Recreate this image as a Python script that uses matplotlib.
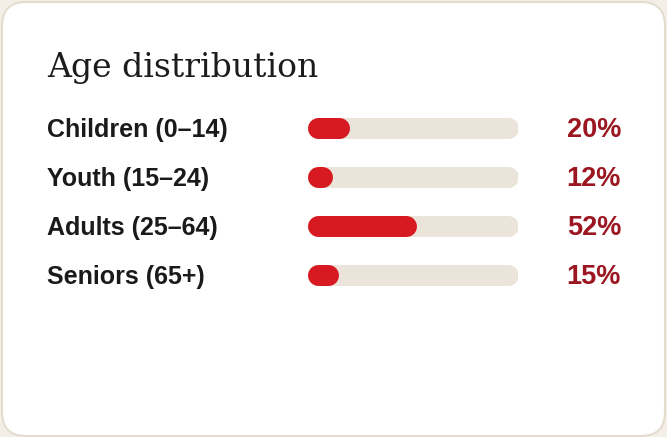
import matplotlib
matplotlib.use("Agg")
import matplotlib.pyplot as plt
from matplotlib.patches import FancyBboxPatch
from matplotlib.transforms import blended_transform_factory

title = "Age distribution"
groups = ["Children (0–14)", "Youth (15–24)", "Adults (25–64)", "Seniors (65+)"]
shares = [20, 12, 52, 15]

W, H = 667, 437
fig = plt.figure(figsize=(W / 100, H / 100), dpi=100, facecolor="#f3efe7")

# card
card = FancyBboxPatch((2, 1), W - 4, H - 3, boxstyle="round,pad=0,rounding_size=24",
                      transform=None, facecolor="white", edgecolor="#e4dccf", lw=1.5,
                      zorder=-10)
fig.patches.append(card)

fig.text(47 / W, 1 - 77 / H, title, family="DejaVu Serif", fontsize=23.8,
         color="#1c1c1c", va="baseline", ha="left")

# bar track area in pixels
x0, x1 = 307, 518
row_h = 49
top = 127.5 - row_h / 2
ax = fig.add_axes([x0 / W, 1 - (top + row_h * len(groups)) / H,
                   (x1 - x0) / W, row_h * len(groups) / H])
ax.set_xlim(0, 100)
ax.set_ylim(len(groups) - 0.5, -0.5)
ax.axis("off")

bar_px = 21
lw = bar_px * 72 / 100
r = (bar_px / 2) / (x1 - x0) * 100
trans = blended_transform_factory(ax.transAxes, ax.transData)
base_off = 9.5 / row_h  # baseline sits below the bar centre

for i, (g, v) in enumerate(zip(groups, shares)):
    ax.plot([r, 100 - r], [i, i], color="#ebe4da", lw=lw, solid_capstyle="round")
    ax.plot([r, max(v - r, r)], [i, i], color="#d71a21", lw=lw, solid_capstyle="round")
    ax.text((47 - x0) / (x1 - x0), i + base_off, g, transform=trans, ha="left",
            va="baseline", family=["Liberation Sans", "DejaVu Sans"],
            fontweight="bold", fontsize=18, color="#1a1a1a", clip_on=False)
    ax.text((621 - x0) / (x1 - x0), i + base_off, f"{v}%", transform=trans,
            ha="right", va="baseline", family="Liberation Sans", fontweight="bold",
            fontsize=19.5, color="#9b1620", clip_on=False)

fig.savefig("out.png", dpi=100, facecolor=fig.get_facecolor())
